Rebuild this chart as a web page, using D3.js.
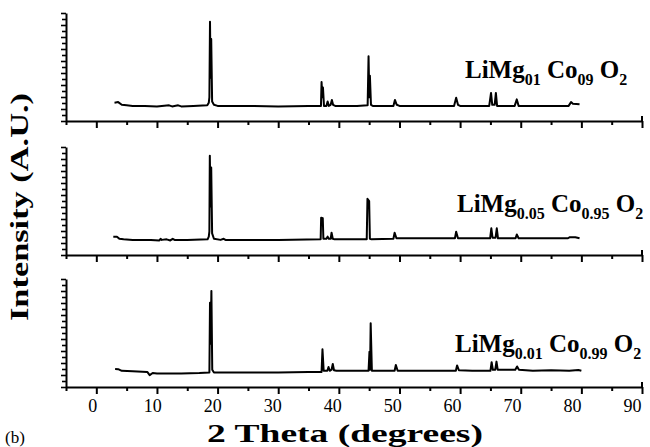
<!DOCTYPE html>
<html>
<head>
<meta charset="utf-8">
<script src="https://cdn.jsdelivr.net/npm/d3@7"></script>
<style>
  body { margin: 0; background: #fff; }
  svg { display: block; }
  text { font-family: "Liberation Serif", "Times New Roman", "DejaVu Serif", serif; }
</style>
</head>
<body>
<div id="chart"></div>
<script>
// XRD patterns: [2 theta, relative intensity 0..100]
var patternMg01 = [
  [3.0,17],[3.6,17.5],[4.2,15],[5,14.5],[6,14],[8,14],[10,13.5],[12,14.5],[12.5,13.5],
  [13.5,14.5],[14,13.5],[16,14],[18.3,14.5],[18.55,17],[18.65,22],[18.75,92],[18.85,40],
  [18.95,76],[19.1,18],[19.4,15],[20,14],[25,14],[30,13.5],[35,14],[37.05,14],[37.15,36],
  [37.28,22],[37.38,31],[37.55,14],[37.95,14],[38.15,18],[38.35,14],[38.65,15],[38.85,19.5],
  [39.05,15],[39.4,14],[43,14],[44.75,14.5],[44.9,60],[45.02,22],[45.12,42],[45.3,15],
  [45.6,14],[49.0,14],[49.25,19.5],[49.55,15],[50,14],[55,14],[59.0,14],[59.35,21.5],
  [59.65,15],[60,14],[64.8,14],[65.1,26],[65.3,15],[65.7,15],[65.9,26],[66.1,14],
  [69.0,14],[69.35,20],[69.65,14],[75,14],[77.9,14],[78.3,17.5],[78.6,16],[79.7,15.5]
];
var patternMg005 = [
  [2.8,17],[3.4,17],[3.8,15],[4.5,14.5],[6,14],[9,14],[10.4,13.5],[10.6,15],[10.8,14],
  [11.6,14.5],[12.2,13.5],[12.6,15],[12.9,14],[15,14],[18.35,14.5],[18.55,17],[18.65,22],
  [18.72,92],[18.85,45],[18.95,81],[19.1,20],[19.4,15],[20.5,14],[21,15],[21.3,14],[30,14],
  [37.0,14.5],[37.08,34.5],[37.35,34],[37.45,15],[37.95,15],[38.15,17],[38.35,15],[38.65,15],
  [38.8,20.6],[39.0,15],[39.3,14.5],[44.6,14.5],[44.72,52],[45.0,50],[45.12,15],[45.4,14.5],
  [49.0,15],[49.2,20.6],[49.5,15.5],[55,15.5],[59.15,15.5],[59.35,21.6],[59.65,15.5],
  [64.95,15.5],[65.15,24.7],[65.35,16],[65.85,16],[66.05,24.7],[66.25,15.5],[69.15,15.5],
  [69.35,19],[69.65,15.5],[77.8,15.5],[78.1,16.5],[79,16.5],[79.7,15.5]
];
var patternMg001 = [
  [3.1,16.7],[3.6,16.5],[4.2,15],[6,14.5],[8.4,14],[8.8,11],[9.3,13],[10,12.5],[14,12.5],
  [17,13],[18.65,13.5],[18.75,78],[18.85,40],[18.98,89],[19.12,16],[19.4,13.5],[25,13.5],
  [30,13.5],[35,13.8],[37.15,14],[37.3,35],[37.5,15],[38.1,15],[38.3,18.5],[38.5,15],
  [38.8,16],[39.0,21.3],[39.2,15.5],[39.6,15],[44.9,15],[45.05,32.7],[45.15,16],[45.25,59],
  [45.45,15],[48,15],[49.2,15],[49.4,20.4],[49.7,15],[55,15],[59.3,15],[59.5,20],[59.8,15.5],
  [62,15],[65.0,15],[65.2,23],[65.4,16],[65.8,16],[66.0,23.5],[66.2,16],[69.1,16],[69.4,19],
  [69.7,16],[72,15],[75,15.5],[78,15],[79.5,15.8],[80,15]
];

var patterns = [patternMg01, patternMg005, patternMg001];

// sample labels: [text, isSubscript]
var labelMg01 = [["LiMg",0],["01",1],[" Co",0],["09",1],[" O",0],["2",1]];
var labelMg005 = [["LiMg",0],["0.05",1],[" Co",0],["0.95",1],[" O",0],["2",1]];
var labelMg001 = [["LiMg",0],["0.01",1],[" Co",0],["0.99",1],[" O",0],["2",1]];
var labels = [labelMg01, labelMg005, labelMg001];

var xTickValues = d3.range(-5, 91, 5);
var xTickLabels = ["0","10","20","30","40","50","60","70","80","90"];

var width = 650, height = 447;
var panelTops = [13, 147, 279];
var panelHeight = 108;
var labelPos = [[465, 78], [457, 212], [455, 352]];

var svg = d3.select("#chart")
  .append("svg")
    .attr("width", width)
    .attr("height", height);

var x = d3.scaleLinear()
  .domain([-5, 90])
  .range([66, 642]);

var line = d3.line()
  .x(function(d) { return x(d[0]); });

panelTops.forEach(function(top, i) {
  var bottom = top + panelHeight;
  var y = d3.scaleLinear()
    .domain([0, 100])
    .range([bottom, top]);

  // x axis
  var gx = svg.append("g")
    .attr("transform", "translate(0," + bottom + ")")
    .call(d3.axisBottom(x)
      .tickValues(xTickValues)
      .tickSizeOuter(0)
      .tickFormat(""));
  gx.select(".domain").attr("stroke-width", 2);
  gx.selectAll(".tick line")
    .attr("stroke-width", 2)
    .attr("y2", function(d) { return d % 10 === 0 ? 7 : 4; });
  // little upturn at the right end
  gx.append("line")
    .attr("x1", x(90)).attr("x2", x(90))
    .attr("y1", 0).attr("y2", -5)
    .attr("stroke", "#000").attr("stroke-width", 2);

  if (i === panelTops.length - 1) {
    // printed labels sit a little left of their ticks
    gx.selectAll(".tick").filter(function(d) { return d >= 0 && d % 10 === 0; })
      .append("text")
      .attr("x", function(d) { return -4 - d / 15; })
      .attr("y", 25)
      .attr("fill", "#000")
      .style("font-size", "18px")
      .attr("text-anchor", "middle")
      .text(function(d) { return xTickLabels[d / 10]; });
  }

  // y axis
  var gy = svg.append("g")
    .attr("transform", "translate(" + x(-5) + ",0)")
    .call(d3.axisLeft(y)
      .tickValues(d3.range(0, 18.5).map(function(k) { return k * 100 / 18; }))
      .tickSizeOuter(0)
      .tickFormat(""));
  gy.select(".domain").attr("stroke-width", 2);
  gy.selectAll(".tick line")
    .attr("stroke-width", 1.6)
    .attr("x2", function(d, k) { return k % 2 === 0 ? -5 : -4; });

  // pattern
  svg.append("path")
    .datum(patterns[i])
    .attr("fill", "none")
    .attr("stroke", "#000")
    .attr("stroke-width", 2)
    .attr("stroke-linejoin", "round")
    .attr("d", line.y(function(d) { return y(d[1]); }));

  // sample label
  var t = svg.append("text")
    .attr("x", labelPos[i][0])
    .attr("y", labelPos[i][1])
    .style("font-weight", "bold")
    .style("font-size", "25px");
  var shifted = false;
  labels[i].forEach(function(p) {
    var dy = 0;
    if (p[1] && !shifted) { dy = 7; shifted = true; }
    else if (!p[1] && shifted) { dy = -7; shifted = false; }
    t.append("tspan")
      .attr("dy", dy)
      .style("font-size", p[1] ? "16px" : "25px")
      .text(p[0]);
  });
});

// axis titles
svg.append("text")
  .attr("x", 345)
  .attr("y", 442)
  .attr("text-anchor", "middle")
  .attr("textLength", 276)
  .attr("lengthAdjust", "spacingAndGlyphs")
  .style("font-weight", "bold")
  .style("font-size", "26px")
  .text("2 Theta (degrees)");

svg.append("text")
  .attr("transform", "translate(28,207) rotate(-90)")
  .attr("text-anchor", "middle")
  .attr("textLength", 228)
  .attr("lengthAdjust", "spacingAndGlyphs")
  .style("font-weight", "bold")
  .style("font-size", "25px")
  .text("Intensity (A.U.)");

svg.append("text")
  .attr("x", 5)
  .attr("y", 443)
  .style("font-size", "17px")
  .text("(b)");
</script>
</body>
</html>
